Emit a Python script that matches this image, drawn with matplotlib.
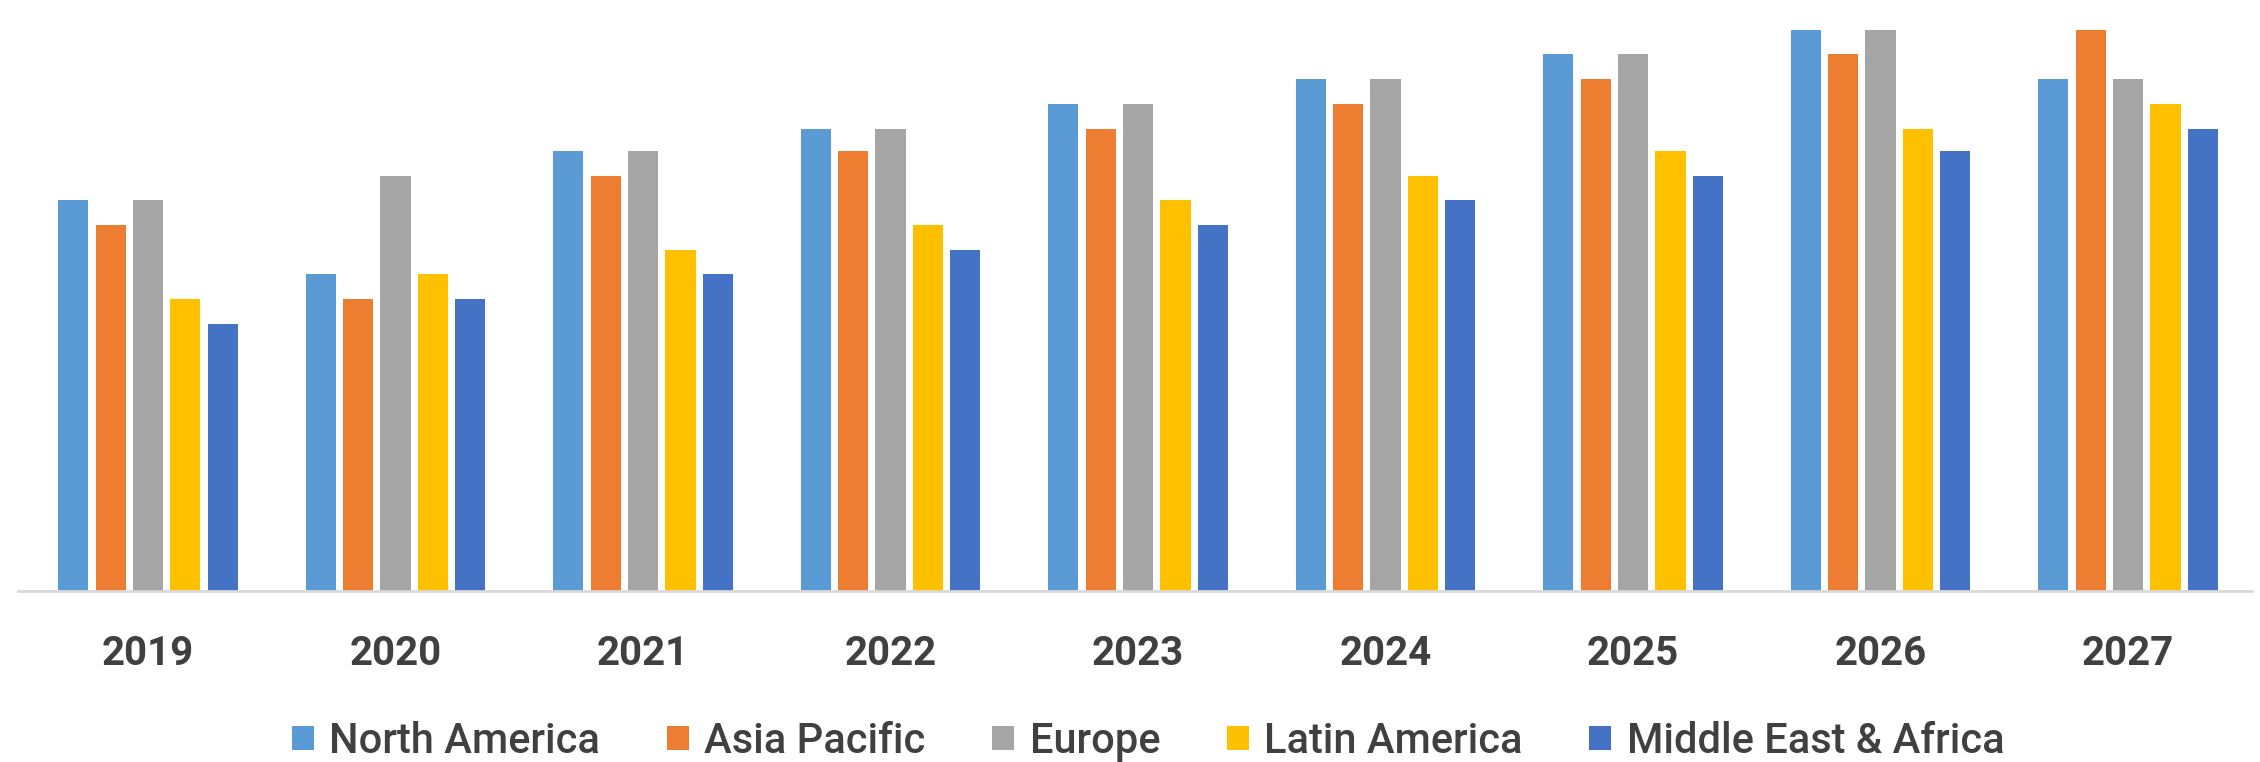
import numpy as np
import matplotlib.pyplot as plt
from matplotlib.patches import Patch

plt.rcParams['font.family'] = ['Roboto', 'DejaVu Sans']

# Годы и регионы
years = ['2019', '2020', '2021', '2022', '2023', '2024', '2025', '2026', '2027']
regions = ['North America', 'Asia Pacific', 'Europe', 'Latin America', 'Middle East & Africa']
colors = ['#5B9BD5', '#ED7D31', '#A5A5A5', '#FFC000', '#4472C4']

# Значения (оценка по картинке)
north_america = [15.8, 12.8, 17.8, 18.7, 19.7, 20.7, 21.7, 22.7, 20.7]
asia_pacific = [14.8, 11.8, 16.8, 17.8, 18.7, 19.7, 20.7, 21.7, 22.7]
europe = [15.8, 16.8, 17.8, 18.7, 19.7, 20.7, 21.7, 22.7, 20.7]
latin_america = [11.8, 12.8, 13.8, 14.8, 15.8, 16.8, 17.8, 18.7, 19.7]
middle_east_africa = [10.8, 11.8, 12.8, 13.8, 14.8, 15.8, 16.8, 17.8, 18.7]

series = [north_america, asia_pacific, europe, latin_america, middle_east_africa]

fig = plt.figure(figsize=(22.6, 7.62), dpi=100)
ax = fig.add_axes([0.008, 0.2244, 0.9885, 0.7756])

x = np.arange(len(years))
pitch = 0.151
width = 0.122
for i, (vals, color) in enumerate(zip(series, colors)):
    ax.bar(x + (i - 2) * pitch, vals, width=width, color=color)

ax.set_xlim(-0.525, 8.501)
ax.set_ylim(0, 23.9)
ax.set_yticks([])
ax.set_xticks(x)
ax.set_xticklabels(years, fontsize=29, fontweight='bold', color='#404040')
ax.tick_params(axis='x', length=0, pad=32)
for side in ['top', 'left', 'right']:
    ax.spines[side].set_visible(False)
ax.spines['bottom'].set_color('#D9D9D9')
ax.spines['bottom'].set_linewidth(2)

# Легенда внизу
handles = [Patch(facecolor=c, label=r) for c, r in zip(colors, regions)]
fig.legend(handles=handles, loc='center', bbox_to_anchor=(0.508, 0.027), ncol=5,
           frameon=False, prop={'size': 30, 'weight': 'medium'}, labelcolor='#404040',
           handlelength=0.53, handleheight=0.53, handletextpad=0.37, columnspacing=1.6,
           borderpad=0.1)

fig.savefig('out.png', dpi=100, facecolor='white')
